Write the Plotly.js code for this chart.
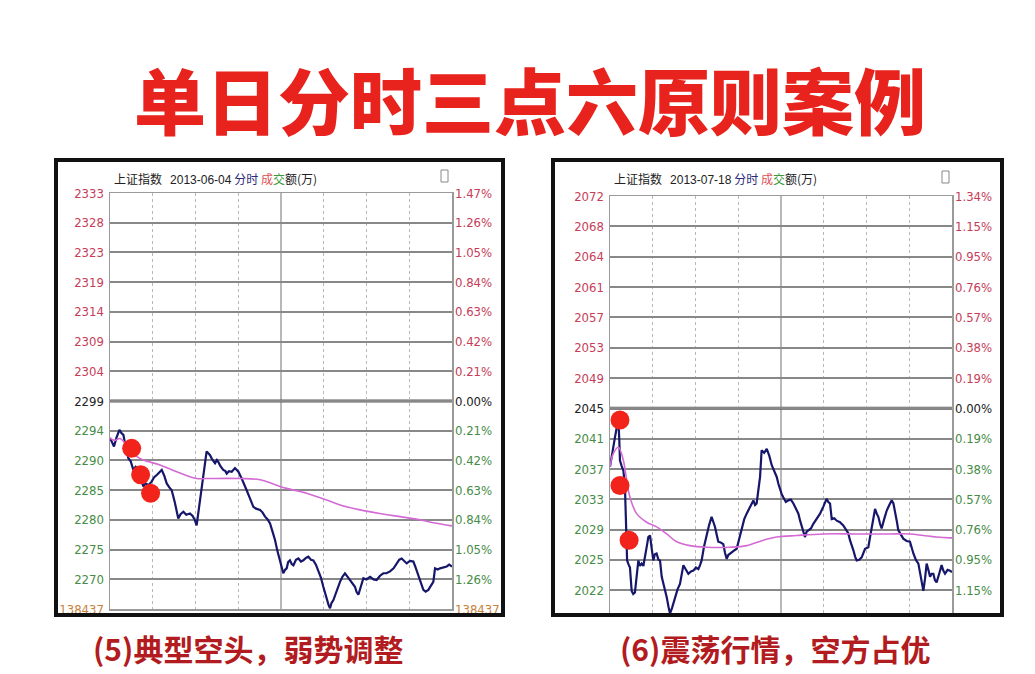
<!DOCTYPE html>
<html><head><meta charset="utf-8">
<script src="https://cdn.plot.ly/plotly-3.0.1.min.js"></script>
<style>html,body{margin:0;padding:0;background:#fff}#c{width:1035px;height:674px}</style>
</head><body><div id="c"></div>
<script>
// ---------- Panel 5 : 2013-06-04 ----------
const timeL = [0,1.5,2.8,4.5,6.6,8,9.4,11,12.9,14.5,16.4,18,19.9,21.5,23.4,25,27,29.2,31,33,36.3,38,39.8,41.5,43.3,45.5,47.9,49.5,51.5,53.5,56.1,58,59.6,60.8,62,63.2,64.5,65.5,66.5,67.8,69,70.2,71.5,73.7,75,76,77.5,79.5,81,81.9,83.5,85.4,87.7,89,90.1,92.4,94,95.9,98,100.6,102.5,105.3,107,108.8,110.5,112.3,114,115.8,117.5,119.3,120.5,121.6,123,124,125,126.3,127.5,128.7,130.5,132.2,134,135.7,137.5,139.2,141,142.7,144.5,146.2,148,149.7,151,152,153.3,154.4,155.5,156.7,158,159.1,160.5,161.4,163,164.9,166.5,168.4,170,171.9,173,174.3,176,177.8,180,182.5,185,187.1,189.5,191.8,194,196.5,199,201.2,203,204.7,206.5,208.2,210.5,212.9,214.5,216.4,218,219.9,221.5,223.4,225,226.9,228.1,230,231.6,234,236.3,238,240];
const priceL = [2293.0,2292.2,2291.6,2293.0,2294.3,2293.8,2293.5,2291.5,2289.7,2289.2,2287.8,2288.3,2288.0,2286.4,2285.1,2285.6,2285.3,2285.9,2286.6,2287.0,2287.8,2286.9,2285.6,2285.0,2284.5,2282.5,2279.9,2280.6,2281.0,2280.5,2280.7,2280.3,2279.6,2278.8,2280.8,2283.4,2285.2,2286.7,2289.0,2290.8,2290.5,2290.2,2289.6,2288.9,2289.4,2289.1,2288.4,2287.8,2287.6,2287.2,2287.6,2287.5,2288.1,2287.8,2287.5,2286.4,2285.6,2284.5,2283.3,2281.8,2281.5,2281.3,2280.9,2280.2,2279.8,2279.1,2277.8,2276.4,2274.6,2273.1,2272.0,2271.0,2271.6,2271.8,2272.8,2273.1,2272.5,2272.3,2273.2,2273.4,2272.9,2273.1,2273.5,2273.7,2273.2,2273.1,2272.4,2271.5,2270.3,2268.8,2267.6,2266.6,2265.9,2265.3,2266.2,2266.6,2267.5,2268.0,2269.0,2269.6,2270.4,2271.0,2270.5,2269.9,2269.3,2268.8,2268.0,2267.5,2268.8,2270.2,2270.0,2270.4,2270.0,2269.9,2270.6,2271.0,2271.0,2271.3,2271.8,2272.6,2273.2,2273.4,2272.9,2272.6,2273.0,2272.9,2271.9,2270.7,2269.4,2268.3,2268.0,2268.3,2268.9,2269.6,2271.8,2271.6,2271.8,2272.0,2272.1,2272.4,2272.1];
const avgTimeL = [0,3,7,10,14,18.7,23.4,35.1,46.8,60.8,67.8,91.2,105.3,117,124,138,152,161.4,175.4,189.5,203.5,217.5,226.9,240];
const avgPriceL = [2293.0,2292.6,2292.9,2292.3,2291.0,2290.0,2289.4,2288.6,2287.5,2286.4,2286.4,2286.4,2286.2,2285.3,2284.8,2284.0,2282.9,2282.1,2281.3,2280.7,2280.2,2279.7,2279.2,2278.7];
const dotTimeL = [15.2,21.5,28.5];
const dotPriceL = [2291.3,2287.0,2284.0];
const prevCloseL = 2299;
const stepL = 4.83;
const priceLabelsL = ['2333','2328','2323','2319','2314','2309','2304','2299','2294','2290','2285','2280','2275','2270','138437'];
const pctLabelsL = ['1.47%','1.26%','1.05%','0.84%','0.63%','0.42%','0.21%','0.00%','0.21%','0.42%','0.63%','0.84%','1.05%','1.26%','138437'];

// ---------- Panel 6 : 2013-07-18 ----------
const timeR = [0,1.2,2.3,3.5,4.7,5.9,6.5,7.0,8.2,9.4,10.5,11.1,11.7,12.0,13,14.0,15.2,16.3,17.5,18.7,19.9,21,22.2,23.4,24.6,26,26.9,28.1,29.3,30.4,31.5,32.7,34,35.1,36.3,38,39.8,41,42.1,43.5,45.6,47.4,49.1,50.3,51.5,53,55.0,56.8,58.5,60.3,62.0,63.2,64.3,66,67.8,69.5,71.3,72.5,73.7,75,76.0,77.7,79.5,80.7,81.9,83,84.2,86.5,88.9,90.7,92.4,94.2,95.9,98.2,100.6,101.8,102.9,104.1,105.3,106.4,108.2,110.0,111.8,113.5,115.3,117.0,118.2,119.3,120.5,121.6,123.4,125.1,126.9,128.7,130.5,132.2,133.4,134.5,135.7,136.8,138,139.2,141,142.7,145,147.4,149.7,152.0,153.2,154.4,155.6,157.4,159.1,161.4,163.7,166.1,167.2,168.4,169.6,170.8,172,173.1,174.8,176.6,179.0,181.3,182.5,183.6,184.8,186.0,187.2,188.3,189.5,190.6,192.4,194.2,196,197.7,198.9,200.0,201.2,202.3,204,205.8,208.2,210.5,212.9,214.6,216.4,218.2,219.9,221.1,222.2,223.4,224.6,225.7,226.9,228,229.2,231,232.7,233.9,235.1,236.9,238.6,240];
const priceR = [2037.5,2038.8,2040.5,2041.3,2042.5,2043.5,2041.0,2038.3,2037.6,2037.0,2034.9,2030.5,2028.1,2025.5,2025.0,2024.6,2021.6,2021.2,2021.4,2023.8,2025.5,2024.8,2025.1,2024.8,2025.9,2027.5,2028.5,2028.7,2027.0,2025.5,2026.3,2026.4,2025.6,2025.5,2023.4,2022.2,2020.8,2019.6,2018.7,2019.4,2020.8,2021.8,2022.5,2023.8,2024.9,2024.4,2023.8,2024.1,2024.2,2024.6,2024.4,2024.9,2025.5,2027.3,2028.9,2030.0,2031.1,2030.5,2029.8,2028.7,2027.9,2027.8,2027.6,2026.5,2025.7,2026.2,2026.4,2026.7,2027.0,2028.4,2029.8,2030.8,2031.5,2032.3,2033.2,2032.6,2032.8,2034.5,2036.2,2039.6,2039.3,2039.8,2038.9,2037.7,2037.0,2036.2,2035.3,2034.5,2034.0,2033.6,2033.0,2033.2,2033.3,2032.8,2032.2,2031.5,2030.6,2029.8,2029.0,2028.5,2029.2,2029.4,2029.6,2030.2,2030.9,2031.5,2032.4,2033.4,2033.0,2032.8,2030.8,2030.9,2030.6,2030.4,2030.0,2029.4,2029.0,2028.1,2027.5,2026.8,2026.0,2025.5,2025.6,2025.9,2027.0,2027.2,2028.5,2029.8,2031.0,2032.1,2031.5,2031.1,2030.2,2029.6,2030.8,2031.9,2032.6,2033.2,2032.8,2031.9,2030.6,2029.4,2028.8,2028.3,2028.0,2027.9,2026.4,2025.6,2025.1,2023.5,2021.6,2023.2,2025.1,2024.3,2023.4,2023.8,2023.8,2023.0,2022.7,2023.8,2024.9,2024.2,2023.8,2024.3,2024.2,2024.0];
const avgTimeR = [0,2.3,5.9,9.4,11.7,14.0,18.7,25.7,32.7,39.8,46.8,56.1,67.8,84.2,95.9,107.6,117,131,149.7,173.1,196.5,210.5,219.9,229.2,238.6,240];
const avgPriceR = [2037.5,2039.2,2040.0,2038.3,2035.8,2033.6,2031.5,2030.4,2029.8,2028.9,2027.9,2027.4,2027.2,2027.2,2027.4,2028.1,2028.5,2028.7,2028.9,2028.9,2028.9,2028.9,2028.7,2028.5,2028.4,2028.4];
const dotTimeR = [7.0,7.0,13.4];
const dotPriceR = [2043.5,2035.1,2028.1];
const prevCloseR = 2045;
const stepR = 3.886;
const priceLabelsR = ['2072','2068','2064','2061','2057','2053','2049','2045','2041','2037','2033','2029','2025','2022'];
const pctLabelsR = ['1.34%','1.15%','0.95%','0.76%','0.57%','0.38%','0.19%','0.00%','0.19%','0.38%','0.57%','0.76%','0.95%','1.15%'];

const titleText = '单日分时三点六原则案例';
const captionL = '(5)典型空头，弱势调整';
const captionR = '(6)震荡行情，空方占优';
const headerDateL = '2013-06-04';
const headerDateR = '2013-07-18';

// ---------- helpers ----------
const W = 1035, H = 674;
const px = x => x / W, py = y => 1 - y / H;
const UP = '#c63d58', DOWN = '#468c46', ZERO = '#222', VOL = '#c8823c';
const NARROW = '"Liberation Sans Narrow","DejaVu Sans Condensed","Arial Narrow","Liberation Sans",sans-serif';

function levels(prev, step, n) { const v = []; for (let i = 0; i < n; i++) v.push(prev + (7 - i) * step); return v; }
function colored(labels) {
  return labels.map((s, i) => {
    const k = 7 - i;
    const col = /^\d{6}$/.test(s) ? VOL : (k > 0 ? UP : (k === 0 ? ZERO : DOWN));
    return '<span style="color:' + col + '">' + s + '</span>';
  });
}

const tvL = levels(prevCloseL, stepL, priceLabelsL.length);
const tvR = levels(prevCloseR, stepR, priceLabelsR.length);
const rangeL = [prevCloseL - 7 * stepL, prevCloseL + 7 * stepL];
const rangeR = [prevCloseR - 6.75 * stepR, prevCloseR + 7 * stepR];

const BLUE = '#16166a', PINK = '#d46ad4', DOT = '#f2231a';

const traces = [
  {x: timeL, y: priceL, xaxis: 'x', yaxis: 'y', mode: 'lines', line: {color: BLUE, width: 2.2}, hoverinfo: 'skip'},
  {x: avgTimeL, y: avgPriceL, xaxis: 'x', yaxis: 'y', mode: 'lines', line: {color: PINK, width: 1.6, shape: 'spline'}, hoverinfo: 'skip'},
  {x: dotTimeL, y: dotPriceL, xaxis: 'x', yaxis: 'y', mode: 'markers', marker: {color: DOT, size: 19}, hoverinfo: 'skip'},
  {x: timeR, y: priceR, xaxis: 'x2', yaxis: 'y2', mode: 'lines', line: {color: BLUE, width: 2.2}, hoverinfo: 'skip'},
  {x: avgTimeR, y: avgPriceR, xaxis: 'x2', yaxis: 'y2', mode: 'lines', line: {color: PINK, width: 1.6, shape: 'spline'}, hoverinfo: 'skip'},
  {x: dotTimeR, y: dotPriceR, xaxis: 'x2', yaxis: 'y2', mode: 'markers', marker: {color: DOT, size: 19}, hoverinfo: 'skip'},
  {x: [0], y: [prevCloseL], xaxis: 'x', yaxis: 'y3', mode: 'markers', marker: {opacity: 0}, hoverinfo: 'skip'},
  {x: [0], y: [prevCloseR], xaxis: 'x2', yaxis: 'y4', mode: 'markers', marker: {opacity: 0}, hoverinfo: 'skip'}
];

const xCommon = {range: [0, 240], tickvals: [30, 60, 90, 150, 180, 210], showticklabels: false, ticks: '',
  showgrid: true, gridcolor: '#b8b8b8', griddash: 'dot', gridwidth: 1, zeroline: false,
  showline: true, mirror: true, linecolor: '#9a9a9a', linewidth: 1.5, fixedrange: true};
const yFont = {family: NARROW, size: 13};
const yCommon = {showgrid: true, gridcolor: '#888888', gridwidth: 2, zeroline: false, ticks: '',
  showline: true, mirror: true, linecolor: '#9a9a9a', linewidth: 1.5, tickfont: yFont, fixedrange: true, ticklabelstandoff: 2};

const layout = {
  width: W, height: H, margin: {l: 0, r: 0, t: 0, b: 0}, showlegend: false,
  paper_bgcolor: '#fff', plot_bgcolor: '#fff',
  xaxis: Object.assign({}, xCommon, {domain: [px(110), px(452)], anchor: 'y'}),
  yaxis: Object.assign({}, yCommon, {domain: [py(609), py(193)], range: rangeL, tickvals: tvL, ticktext: colored(priceLabelsL), anchor: 'x'}),
  yaxis3: {overlaying: 'y', side: 'right', anchor: 'x', range: rangeL, tickvals: tvL, ticktext: colored(pctLabelsL),
    showgrid: false, zeroline: false, ticks: '', showline: false, tickfont: yFont, fixedrange: true, ticklabelstandoff: 2},
  xaxis2: Object.assign({}, xCommon, {domain: [px(610), px(952)], anchor: 'y2'}),
  yaxis2: Object.assign({}, yCommon, {domain: [py(613), py(196)], range: rangeR, tickvals: tvR, ticktext: colored(priceLabelsR), anchor: 'x2'}),
  yaxis4: {overlaying: 'y2', side: 'right', anchor: 'x2', range: rangeR, tickvals: tvR, ticktext: colored(pctLabelsR),
    showgrid: false, zeroline: false, ticks: '', showline: false, tickfont: yFont, fixedrange: true, ticklabelstandoff: 2},
  shapes: [
    {type: 'line', xref: 'x', yref: 'y', x0: 0, x1: 240, y0: prevCloseL, y1: prevCloseL, line: {color: '#5a5a5a', width: 3}, layer: 'below'},
    {type: 'line', xref: 'x2', yref: 'y2', x0: 0, x1: 240, y0: prevCloseR, y1: prevCloseR, line: {color: '#5a5a5a', width: 3}, layer: 'below'},
    {type: 'line', xref: 'x', yref: 'paper', x0: 120, x1: 120, y0: py(609), y1: py(193), line: {color: '#a0a0a0', width: 1.5}, layer: 'below'},
    {type: 'line', xref: 'x2', yref: 'paper', x0: 120, x1: 120, y0: py(613), y1: py(196), line: {color: '#a0a0a0', width: 1.5}, layer: 'below'},
    {type: 'rect', xref: 'paper', yref: 'paper', x0: px(56), x1: px(503), y0: py(615), y1: py(160), line: {color: '#111', width: 4}},
    {type: 'rect', xref: 'paper', yref: 'paper', x0: px(553), x1: px(1002), y0: py(615), y1: py(160), line: {color: '#111', width: 4}},
    {type: 'rect', xref: 'paper', yref: 'paper', x0: px(441), x1: px(448), y0: py(182), y1: py(170), line: {color: '#888', width: 1}},
    {type: 'rect', xref: 'paper', yref: 'paper', x0: px(942), x1: px(949), y0: py(183), y1: py(171), line: {color: '#888', width: 1}}
  ],
  annotations: [
    {text: titleText, xref: 'paper', yref: 'paper', x: px(530), y: py(97), xanchor: 'center', yanchor: 'middle', showarrow: false,
      font: {family: '"Noto Sans CJK SC",sans-serif', size: 72, color: '#e8221c', weight: 900}},
    {text: captionL, xref: 'paper', yref: 'paper', x: px(248), y: py(672), xanchor: 'center', yanchor: 'bottom', showarrow: false,
      font: {family: '"Noto Sans CJK SC",sans-serif', size: 30, color: '#b21c20', weight: 700}},
    {text: captionR, xref: 'paper', yref: 'paper', x: px(775), y: py(672), xanchor: 'center', yanchor: 'bottom', showarrow: false,
      font: {family: '"Noto Sans CJK SC",sans-serif', size: 30, color: '#b21c20', weight: 700}},
    {text: '上证指数&nbsp;&nbsp;&nbsp;<span style="font-family:' + "'Liberation Sans Narrow',sans-serif" + '">' + headerDateL + '</span> <span style="color:#2a2a7a">分时</span> <span style="color:#e0505a">成</span><span style="color:#3b9a3b">交</span>额(万)',
      xref: 'paper', yref: 'paper', x: px(112), y: py(178), xanchor: 'left', yanchor: 'middle', showarrow: false,
      font: {family: '"Noto Sans CJK SC",sans-serif', size: 12, color: '#222'}},
    {text: '上证指数&nbsp;&nbsp;&nbsp;<span style="font-family:' + "'Liberation Sans Narrow',sans-serif" + '">' + headerDateR + '</span> <span style="color:#2a2a7a">分时</span> <span style="color:#e0505a">成</span><span style="color:#3b9a3b">交</span>额(万)',
      xref: 'paper', yref: 'paper', x: px(612), y: py(178), xanchor: 'left', yanchor: 'middle', showarrow: false,
      font: {family: '"Noto Sans CJK SC",sans-serif', size: 12, color: '#222'}}
  ]
};

Plotly.newPlot('c', traces, layout, {staticPlot: true, displayModeBar: false});
</script>
</body></html>
